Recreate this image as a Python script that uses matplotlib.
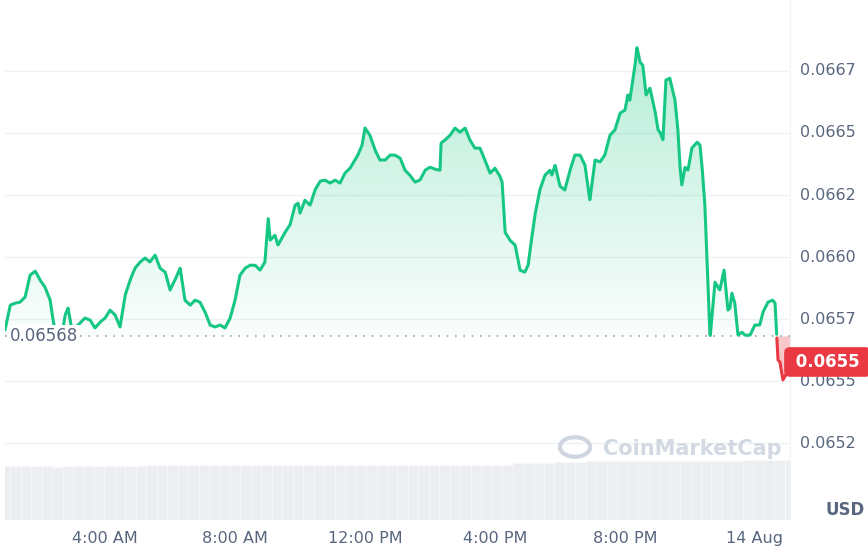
import numpy as np
import matplotlib
matplotlib.use("Agg")
import matplotlib.pyplot as plt
from matplotlib.patches import Circle
from matplotlib.path import Path

hours = [0.92,1.08,1.23,1.38,1.54,1.69,1.85,2.00,2.15,2.31,2.40,2.52,2.62,2.77,2.86,2.98,3.17,3.38,3.54,3.69,3.85,4.00,4.15,4.31,4.46,4.62,4.77,4.92,5.08,5.23,5.38,5.54,5.69,5.85,6.00,6.15,6.31,6.46,6.62,6.77,6.92,7.08,7.23,7.38,7.54,7.69,7.85,8.00,8.15,8.31,8.46,8.62,8.77,8.92,9.02,9.08,9.23,9.32,9.54,9.69,9.85,9.94,10.00,10.15,10.31,10.46,10.62,10.77,10.92,11.08,11.23,11.38,11.54,11.69,11.78,11.91,12.00,12.15,12.31,12.46,12.62,12.77,12.92,13.08,13.23,13.38,13.54,13.69,13.85,14.00,14.15,14.31,14.34,14.46,14.62,14.77,14.92,15.08,15.23,15.38,15.54,15.69,15.85,16.00,16.15,16.22,16.31,16.46,16.62,16.77,16.92,17.02,17.08,17.23,17.38,17.54,17.69,17.75,17.85,18.00,18.15,18.31,18.46,18.62,18.77,18.92,19.08,19.23,19.38,19.54,19.69,19.85,20.00,20.09,20.15,20.31,20.37,20.46,20.55,20.65,20.77,20.92,21.02,21.08,21.17,21.26,21.38,21.54,21.63,21.69,21.75,21.85,21.94,22.06,22.22,22.31,22.37,22.46,22.62,22.77,22.92,23.05,23.17,23.23,23.29,23.38,23.48,23.60,23.69,23.85,24.00,24.15,24.25,24.40,24.55,24.62,24.71,24.77,24.86,24.95,25.08]
prices = [.065706,.065806,.065814,.065818,.065839,.065927,.065943,.065907,.065879,.065826,.065746,.065665,.065645,.065766,.065794,.065706,.065726,.065754,.065746,.065714,.065738,.065754,.065786,.065766,.065718,.065847,.065907,.065955,.065980,.065996,.065980,.066008,.065955,.065939,.065867,.065907,.065955,.065826,.065806,.065826,.065818,.065778,.065726,.065718,.065726,.065714,.065754,.065826,.065927,.065955,.065967,.065967,.065947,.065980,.066157,.066068,.066088,.066048,.066100,.066129,.066209,.066217,.066177,.066229,.066209,.066270,.066306,.066310,.066298,.066310,.066298,.066338,.066358,.066391,.066411,.066451,.066520,.066491,.066431,.066391,.066391,.066411,.066411,.066399,.066350,.066330,.066302,.066310,.066350,.066362,.066354,.066350,.066459,.066471,.066491,.066520,.066503,.066520,.066471,.066439,.066439,.066391,.066338,.066358,.066326,.066302,.066100,.066068,.066048,.065947,.065939,.065967,.066028,.066169,.066270,.066330,.066350,.066330,.066370,.066286,.066270,.066350,.066411,.066411,.066370,.066229,.066391,.066383,.066411,.066491,.066512,.066580,.066592,.066653,.066632,.066773,.066846,.066786,.066773,.066653,.066681,.066592,.066512,.066503,.066471,.066713,.066721,.066632,.066512,.066370,.066290,.066362,.066350,.066439,.066463,.066451,.066370,.066209,.065673,.065899,.065867,.065947,.065786,.065794,.065855,.065814,.065685,.065697,.065685,.065685,.065726,.065726,.065778,.065818,.065826,.065814,.065585,.065577,.065504,.065524,.065573]
baseline = 0.06568
last_label = "0.0655"
ytick_vals = [0.06525, 0.0655, 0.06575, 0.066, 0.06625, 0.0665, 0.06675]
ytick_labels = ["0.0652", "0.0655", "0.0657", "0.0660", "0.0662", "0.0665", "0.0667"]
xtick_vals = [4, 8, 12, 16, 20, 24]
xtick_labels = ["4:00 AM", "8:00 AM", "12:00 PM", "4:00 PM", "8:00 PM", "14 Aug"]
volume = [50,50,50,50,50,49,50,50,50,50,50,50,50,50,51,51,51,51,51,51,51,51,51,51,51,51,51,51,51,51,51,51,51,51,51,51,51,51,51,51,51,51,51,51,51,51,51,51,51,52,52,52,52,53,53,53,54,54,54,54,54,54,54,54,54,54,54,54,54,54,54,55,55,55,55,55]

GREEN = "#16c784"; RED = "#ea3943"; GRAY = "#58667e"; GRID = "#eff2f5"
W, H = 868, 556
fig = plt.figure(figsize=(W/100, H/100), dpi=100)
L, R = 5/W, 790/W
ax = fig.add_axes([L, 36/H, R-L, 520/H])
ylo, yhi = 0.06494, 0.067036
xlo, xhi = 0.92, 25.08

axv = ax.twinx()
vx = np.linspace(xlo, xhi, len(volume))
axv.bar(vx, volume, width=(xhi-xlo)/len(volume)*1.02, color="#eceef1", edgecolor="#f7f8fa", lw=0.6, zorder=0)
axv.set_ylim(0, max(volume)*8.7)
axv.set_xlim(xlo, xhi)
axv.axis("off")
ax.set_zorder(axv.get_zorder()+1); ax.patch.set_visible(False)

t = np.array(hours); p = np.array(prices)
tf = np.linspace(t[0], t[-1], 4000); pf = np.interp(tf, t, p)
grad = np.linspace(0, 1, 256).reshape(-1, 1)
for cond, col in [(pf >= baseline, GREEN), (pf <= baseline, RED)]:
    poly = ax.fill_between(tf, pf, baseline, where=cond, color="none", lw=0)
    rgba = np.zeros((256, 1, 4)); rgba[..., :3] = matplotlib.colors.to_rgb(col)
    if col == GREEN:
        rgba[..., 3] = 0.02 + 0.30 * grad
        ext = [xlo, xhi, baseline, p.max()]
    else:
        rgba[..., 3] = 0.28
        ext = [xlo, xhi, p.min(), baseline]
    im = ax.imshow(rgba, extent=ext, origin="lower", aspect="auto", zorder=1)
    paths = poly.get_paths()
    if paths:
        im.set_clip_path(Path.make_compound_path(*paths), transform=ax.transData)

above = np.where(pf >= baseline, pf, np.nan)
below = np.where(pf <= baseline, pf, np.nan)
ax.plot(tf, above, color=GREEN, lw=2.2, zorder=3, solid_capstyle="round")
ax.plot(tf, below, color=RED, lw=2.2, zorder=3, solid_capstyle="round")
ax.axhline(baseline, color="#9aa3b1", lw=1.2, ls=(0, (1, 4)), zorder=2)

for v in ytick_vals:
    ax.axhline(v, color=GRID, lw=1, zorder=0)
ax.set_xlim(xlo, xhi); ax.set_ylim(ylo, yhi)
ax.set_yticks([]); ax.set_xticks(xtick_vals)
ax.set_xticklabels(xtick_labels, fontsize=11.5, color=GRAY)
ax.tick_params(axis="x", length=0, pad=8)
for s in ["top", "left", "bottom"]:
    ax.spines[s].set_visible(False)
ax.spines["right"].set_color("#eff2f5")
for v, lab in zip(ytick_vals, ytick_labels):
    ax.text(1.013, v, lab, transform=ax.get_yaxis_transform(), fontsize=11.5, color=GRAY, va="center", ha="left")
ax.text(1.045, 0.02, "USD", transform=ax.transAxes, fontsize=12, color=GRAY, fontweight="bold", va="center")
ax.text(0.006, baseline, "0.06568", transform=ax.get_yaxis_transform(), fontsize=12, color=GRAY, va="center",
        ha="left", bbox=dict(fc="white", ec="none", pad=1.5), zorder=4)
ax.text(1.0, p[-1] + 0.000004, " " + last_label + " ", transform=ax.get_yaxis_transform(), fontsize=12, color="white",
        fontweight="bold", va="center", ha="left", clip_on=False,
        bbox=dict(boxstyle="round,pad=0.35", fc=RED, ec="none"), zorder=5)
fig.patches.append(Circle((575/W, 1-447/H), 0.0175, transform=fig.transFigure, fc="none", ec="#cfd6e0", lw=3))
fig.text(603/W, 1-449/H, "CoinMarketCap", fontsize=15, color="#d3d9e2", fontweight="bold", va="center")
fig.savefig("out.png", dpi=100)
